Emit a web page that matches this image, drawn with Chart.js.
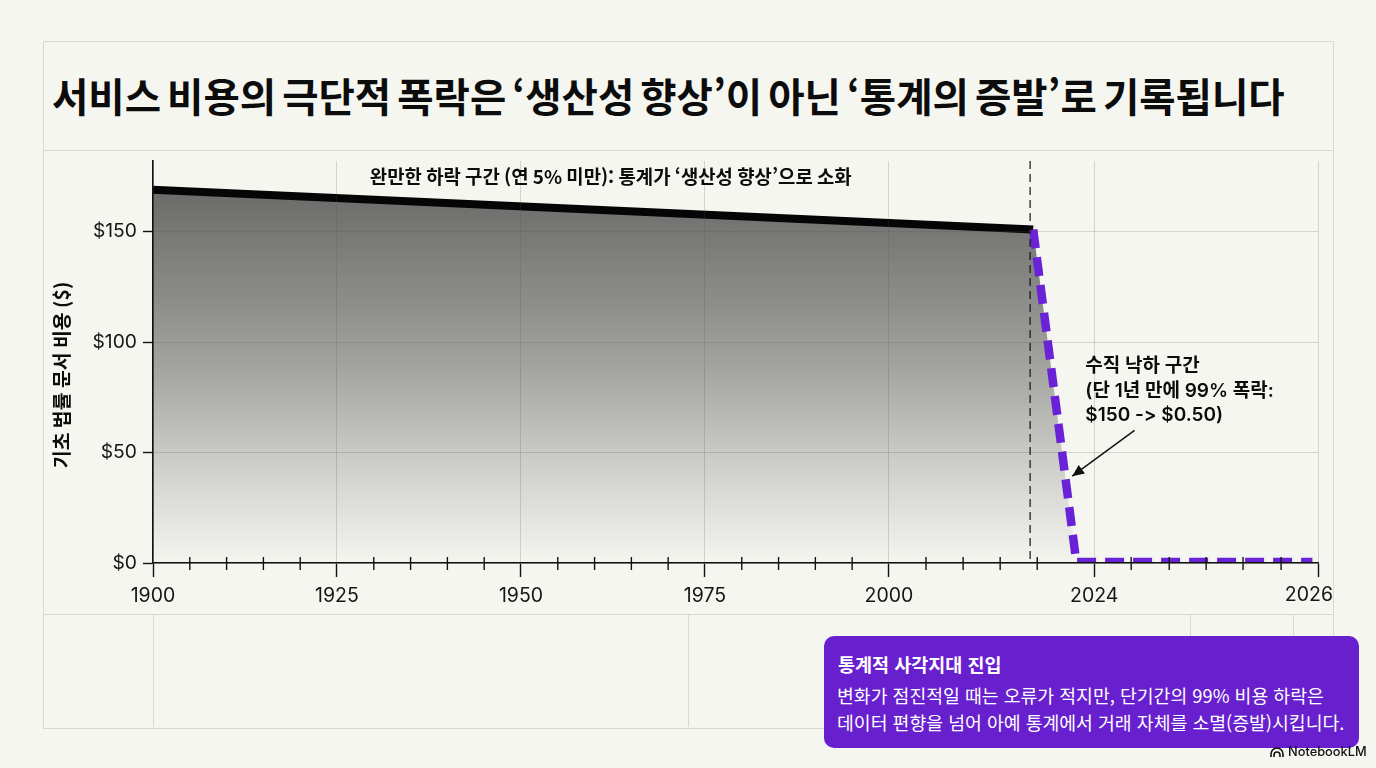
<!DOCTYPE html>
<html lang="ko">
<head>
<meta charset="utf-8">
<title>서비스 비용의 극단적 폭락</title>
<script src="https://cdn.jsdelivr.net/npm/chart.js"></script>
<style>
  html, body { margin: 0; width: 1376px; height: 768px; overflow: hidden; background: #f6f6f0; font-family: Inter, 'Noto Sans CJK KR', sans-serif; }
  canvas { position: absolute; left: 0; top: 0; }
  .rule { position: absolute; background: #d9d9d3; }
  #frame { position: absolute; left: 43px; top: 41px; width: 1289px; height: 686px; border: 1px solid #d9d9d3; }
  #title { position: absolute; left: 52px; top: 65px; margin: 0; font: 700 39.5px 'Noto Sans CJK KR', sans-serif; line-height: 60px; word-spacing: -5px; color: #0c0c0c; white-space: nowrap; }
  #note { position: absolute; left: 824px; top: 636px; width: 535px; height: 112px; border-radius: 10px; background: #6820cf; color: #fff; }
  #note b { position: absolute; left: 14px; top: 16px; font: 700 18.5px/24px 'Noto Sans CJK KR', sans-serif; white-space: nowrap; }
  #note p { position: absolute; left: 13px; top: 46px; margin: 0; font: 400 18.3px/27px 'Noto Sans CJK KR', sans-serif; white-space: nowrap; }
  #mark { position: absolute; left: 1270px; top: 744px; font: 500 12.8px/16px Inter, sans-serif; color: #111; white-space: nowrap; }
  #mark svg { vertical-align: -2px; margin-right: 4px; }
</style>
</head>
<body>
<div id="frame"></div>
<div class="rule" style="left:43px;top:150px;width:1290px;height:1px"></div>
<div class="rule" style="left:43px;top:614px;width:1290px;height:1px"></div>
<div class="rule" style="left:153px;top:614px;width:1px;height:113px"></div>
<div class="rule" style="left:688px;top:614px;width:1px;height:113px"></div>
<div class="rule" style="left:1190px;top:614px;width:1px;height:22px"></div>
<div class="rule" style="left:1293px;top:614px;width:1px;height:22px"></div>
<h1 id="title">서비스 비용의 극단적 폭락은 ‘생산성 향상’이 아닌 ‘통계의 증발’로 기록됩니다</h1>
<canvas id="costChart" width="1376" height="768"></canvas>
<div id="note">
  <b>통계적 사각지대 진입</b>
  <p>변화가 점진적일 때는 오류가 적지만, 단기간의 99% 비용 하락은<br>데이터 편향을 넘어 아예 통계에서 거래 자체를 소멸(증발)시킵니다.</p>
</div>
<div id="mark"><svg width="14" height="11" viewBox="0 0 14 11"><path d="M1 10V7a6 6 0 0 1 12 0v3M4 10V8a3 3 0 0 1 6 0v2" fill="none" stroke="#111" stroke-width="1.6"/></svg>NotebookLM</div>

<script>
// Chart values
const slowYears = [1900, 2016.86];
const slowCosts = [169, 151];
const dropYears = [2016.86, 2021.9, 2025.95];
const dropCosts = [151, 0.5, 0.5];
const dividerYear = 2016.5;
const tickYears = [1900, 1925, 1950, 1975, 2000, 2024, 2026];
const minorYears = [1905, 1910, 1915, 1920, 1930, 1935, 1940, 1945, 1955, 1960, 1965, 1970,
    1980, 1985, 1990, 1995, 2004.33, 2008.67, 2013, 2017.33, 2024.33, 2024.67, 2025, 2025.33, 2025.67];
const costTicks = [0, 50, 100, 150];

// The axis is not to scale: each stretch between these years has its own width
const breakYears = [1900, 2000, 2024, 2026];
const breakPos = [0, 100, 127.9, 158.3];

const slowLabel = '완만한 하락 구간 (연 5% 미만): 통계가 ‘생산성 향상’으로 소화';
const slowLabelAt = [1962.2, 175];
const dropLabel = ['수직 낙하 구간', '(단 1년 만에 99% 폭락:', '$150 -> $0.50)'];
const dropLabelAt = [2022.95, 89];
const arrowFrom = [2024.36, 60];
const arrowTo = [2021.42, 39.3];
const yTitle = '기초 법률 문서 비용 ($)';

const FONT = "Inter, 'Noto Sans CJK KR', sans-serif";
const KR = "'Noto Sans CJK KR', sans-serif";
const PURPLE = '#6a22d6';
const lastTick = tickYears.length - 1;

// Function to map a year onto the broken axis
const axisPos = (year) => {
    for (let i = 1; i < breakYears.length; i++) {
        if (year <= breakYears[i]) {
            const t = (year - breakYears[i - 1]) / (breakYears[i] - breakYears[i - 1]);
            return breakPos[i - 1] + t * (breakPos[i] - breakPos[i - 1]);
        }
    }
    return breakPos[breakPos.length - 1];
};

const toPoints = (years, costs) => years.map((y, i) => ({ x: axisPos(y), y: costs[i] }));

const areaFill = (context) => {
    const { ctx, chartArea, scales } = context.chart;
    if (!chartArea) return 'transparent';
    const g = ctx.createLinearGradient(0, scales.y.getPixelForValue(170), 0, scales.y.getPixelForValue(0));
    g.addColorStop(0, '#6a6a68');
    g.addColorStop(0.3, '#8c8c8a');
    g.addColorStop(0.5, '#a6a6a3');
    g.addColorStop(0.72, '#cbcbc8');
    g.addColorStop(1, '#f5f5f0');
    return g;
};

// Minor ticks and the annotations, all placed through the chart's scales
const annotationPlugin = {
    id: 'annotationPlugin',
    afterDraw(chart) {
        const { ctx, scales: { x, y }, chartArea } = chart;
        const px = (year) => x.getPixelForValue(axisPos(year));
        const py = (cost) => y.getPixelForValue(cost);

        ctx.save();
        ctx.strokeStyle = '#111';
        ctx.lineWidth = 1.4;
        minorYears.forEach(year => {
            ctx.beginPath();
            ctx.moveTo(px(year), chartArea.bottom - 6);
            ctx.lineTo(px(year), chartArea.bottom + 7);
            ctx.stroke();
        });

        // dashed line where the drop starts
        ctx.lineWidth = 1.2;
        ctx.setLineDash([8, 5]);
        ctx.beginPath();
        ctx.moveTo(px(dividerYear), chartArea.top);
        ctx.lineTo(px(dividerYear), chartArea.bottom);
        ctx.stroke();
        ctx.setLineDash([]);

        // arrow
        const x0 = px(arrowFrom[0]), y0 = py(arrowFrom[1]);
        const x1 = px(arrowTo[0]), y1 = py(arrowTo[1]);
        const angle = Math.atan2(y1 - y0, x1 - x0);
        ctx.lineWidth = 1.5;
        ctx.beginPath();
        ctx.moveTo(x0, y0);
        ctx.lineTo(x1, y1);
        ctx.stroke();
        ctx.fillStyle = '#111';
        ctx.beginPath();
        ctx.moveTo(x1, y1);
        ctx.lineTo(x1 - 13 * Math.cos(angle - 0.42), y1 - 13 * Math.sin(angle - 0.42));
        ctx.lineTo(x1 - 13 * Math.cos(angle + 0.42), y1 - 13 * Math.sin(angle + 0.42));
        ctx.closePath();
        ctx.fill();

        // last year label sits left of its tick so it stays inside the frame
        ctx.fillStyle = '#161616';
        ctx.font = `400 19.5px ${FONT}`;
        ctx.textAlign = 'right';
        ctx.textBaseline = 'middle';
        ctx.fillText(tickYears[lastTick], px(tickYears[lastTick]) + 15, chartArea.bottom + 32);

        // texts
        ctx.fillStyle = '#0c0c0c';
        ctx.textRendering = 'optimizeSpeed'; // keeps "->" as two glyphs
        ctx.font = `700 18.85px ${KR}`;
        ctx.textAlign = 'center';
        ctx.fillText(slowLabel, px(slowLabelAt[0]), py(slowLabelAt[1]));

        ctx.textAlign = 'left';
        ctx.font = `600 19px ${FONT}`;
        dropLabel.forEach((line, i) => {
            ctx.fillText(line, px(dropLabelAt[0]), py(dropLabelAt[1]) + i * 24.5);
        });

        ctx.translate(62, 375);
        ctx.rotate(-Math.PI / 2);
        ctx.textAlign = 'center';
        ctx.font = `700 19.4px ${KR}`;
        ctx.fillText(yTitle, 0, 0);
        ctx.restore();
    }
};

const ctx = document.getElementById('costChart').getContext('2d');
new Chart(ctx, {
    type: 'line',
    data: {
        datasets: [
            {
                label: '급락 구간',
                data: toPoints(dropYears, dropCosts),
                borderColor: PURPLE,
                borderWidth: 8.5,
                borderDash: [19, 9],
                pointRadius: 0,
                order: 1
            },
            {
                label: '완만한 하락 구간',
                data: toPoints(slowYears, slowCosts),
                borderColor: '#050505',
                borderWidth: 8,
                pointRadius: 0,
                order: 2
            },
            {
                label: '비용',
                data: toPoints(slowYears.concat(dropYears.slice(1)), slowCosts.concat(dropCosts.slice(1))),
                borderWidth: 0,
                pointRadius: 0,
                fill: 'origin',
                backgroundColor: areaFill,
                order: 3
            }
        ]
    },
    options: {
        responsive: false,
        animation: false,
        devicePixelRatio: 1,
        layout: { padding: { left: 0, right: 58, top: 161, bottom: 165 } },
        plugins: { legend: { display: false }, tooltip: { enabled: false } },
        scales: {
            x: {
                type: 'linear',
                min: breakPos[0],
                max: breakPos[breakPos.length - 1],
                afterBuildTicks: (scale) => { scale.ticks = tickYears.map(y => ({ value: axisPos(y) })); },
                afterFit: (scale) => { scale.height = 40; },
                ticks: {
                    autoSkip: false,
                    maxRotation: 0,
                    padding: 7,
                    color: '#161616',
                    font: { family: FONT, size: 19.5 },
                    callback: (value, index) => (index === lastTick ? '' : tickYears[index])
                },
                grid: { color: 'rgba(80,80,70,0.2)', lineWidth: 1, tickColor: '#111', tickLength: 14, tickWidth: 1.4, z: 1 },
                border: { color: '#111', width: 1.6, z: 2 }
            },
            y: {
                min: 0,
                max: 182,
                afterBuildTicks: (scale) => { scale.ticks = costTicks.map(v => ({ value: v })); },
                afterFit: (scale) => { scale.width = 153; },
                ticks: {
                    padding: 6,
                    color: '#161616',
                    font: { family: FONT, size: 19.3 },
                    callback: (value) => `$${value}`
                },
                grid: { color: 'rgba(80,80,70,0.2)', lineWidth: 1, tickColor: '#111', tickLength: 10, tickWidth: 1.4, z: 1 },
                border: { color: '#111', width: 1.6, z: 2 }
            }
        }
    },
    plugins: [annotationPlugin]
});
</script>
</body>
</html>
